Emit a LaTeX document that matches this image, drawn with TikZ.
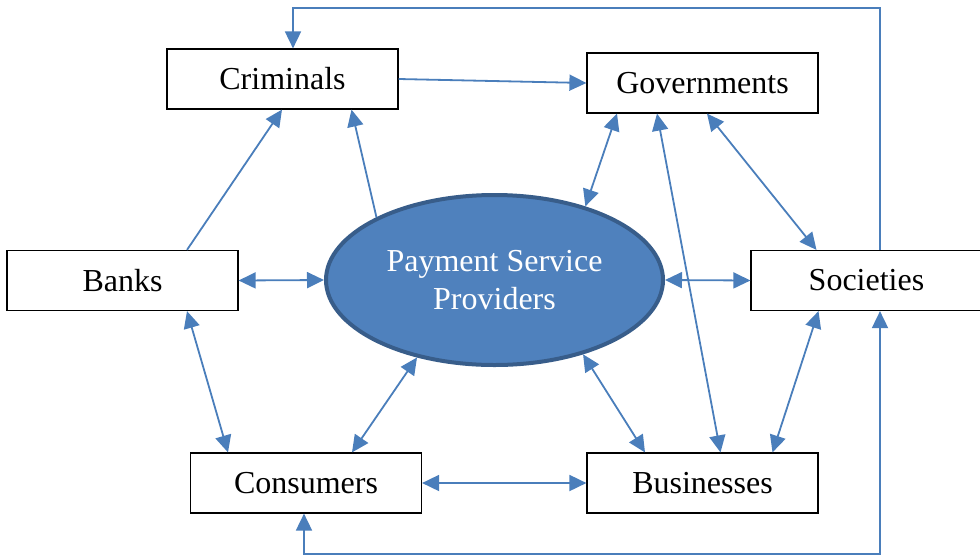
\documentclass[tikz,border=0pt]{standalone}
\usepackage{fontspec}
\setmainfont{Liberation Serif}
\usetikzlibrary{shapes.geometric,arrows.meta}
\definecolor{linkblue}{HTML}{4A7EBB}
\definecolor{pspfill}{HTML}{4F81BD}
\definecolor{pspedge}{HTML}{385D8A}
\begin{document}
\begin{tikzpicture}[x=1pt,y=-1pt,
  actor/.style={draw=black,line width=1.2pt,fill=white,minimum width=231pt,minimum height=60pt,
    inner sep=0pt,font=\fontsize{32}{38}\selectfont},
  hub/.style={ellipse,draw=pspedge,line width=4pt,fill=pspfill,minimum width=337pt,minimum height=170pt,
    inner sep=0pt,text=white,align=center,font=\fontsize{32}{38}\selectfont},
  link/.style={draw=linkblue,line width=1.8pt},
  >={Triangle[length=17pt,width=16pt]}]
\useasboundingbox (0,0) rectangle (980,558);

% actors around the hub
\node[actor] (crim)  at (282.5,79)  {Criminals};
\node[actor] (gov)   at (702.5,83)  {Governments};
\node[actor] (banks) at (122.5,280.5) {Banks};
\node[actor] (soc)   at (866.5,280.5) {Societies};
\node[actor] (cons)  at (306,483)   {Consumers};
\node[actor] (bus)   at (702.5,483) {Businesses};
\node[hub]   (psp)   at (494.5,280) {Payment Service\\Providers};

% one-way links
\draw[link,->] (crim.east) -- (gov.west);
\draw[link,->] ([xshift=64.5pt]banks.north) -- ([xshift=-0.5pt]crim.south);
\draw[link,->] (psp.152.6) -- ([xshift=69pt]crim.south);

% two-way links
\draw[link,<->] (psp.39) -- ([xshift=-85.5pt]gov.south);
\draw[link,<->] ([xshift=-45.5pt]gov.south) -- ([xshift=18pt]bus.north);
\draw[link,<->] ([xshift=4.5pt]gov.south) -- ([xshift=-50pt]soc.north);
\draw[link,<->] (banks.east) -- (psp.west);
\draw[link,<->] (psp.east) -- (soc.west);
\draw[link,<->] ([xshift=64.5pt]banks.south) -- ([xshift=-78pt]cons.north);
\draw[link,<->] (psp.225.5) -- ([xshift=46pt]cons.north);
\draw[link,<->] (psp.320.9) -- ([xshift=-57.5pt]bus.north);
\draw[link,<->] (cons.east) -- (bus.west);
\draw[link,<->] ([xshift=-48pt]soc.south) -- ([xshift=70pt]bus.north);

% outer loops
\coordinate (soctop) at ([xshift=13.5pt]soc.north);
\coordinate (crimtop) at ([xshift=10.5pt]crim.north);
\coordinate (socbot) at ([xshift=13.5pt]soc.south);
\coordinate (consbot) at ([xshift=-2pt]cons.south);
\coordinate (topline) at (0,8);
\coordinate (botline) at (0,554);
\draw[link,->] (soctop) -- (soctop |- topline) -- (crimtop |- topline) -- (crimtop);
\draw[link,<->] (socbot) -- (socbot |- botline) -- (consbot |- botline) -- (consbot);
\end{tikzpicture}
\end{document}
